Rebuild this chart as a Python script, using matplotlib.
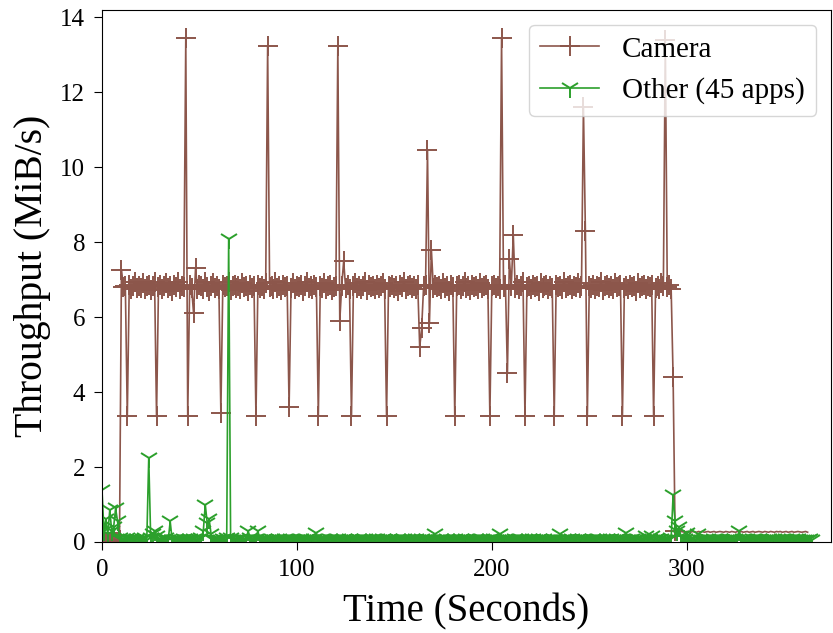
import numpy as np
import matplotlib
matplotlib.use("Agg")
import matplotlib.pyplot as plt

plt.rcParams["font.family"] = ["Liberation Serif", "DejaVu Serif"]

# Throughput per second (MiB/s)
camera = [
    0.0, 0.0, 0.0, 0.0, 0.0, 0.0, 0.0, 0.0, 0.0, 0.05,
    7.27, 6.8, 6.82, 3.35, 6.86, 6.74, 6.82, 6.95, 6.78, 6.84,
    6.78, 6.9, 6.74, 6.82, 6.86, 6.72, 6.82, 6.95, 3.35, 6.8,
    6.86, 6.74, 6.82, 6.9, 6.78, 6.84, 6.7, 6.86, 6.8, 6.95,
    6.74, 6.84, 6.8, 13.45, 3.35, 6.86, 6.78, 6.1, 7.3, 6.76,
    6.86, 6.82, 6.74, 6.95, 6.8, 6.7, 6.84, 6.9, 6.78, 6.82,
    6.74, 3.45, 6.86, 6.8, 6.82, 6.95, 6.72, 6.82, 6.86, 6.78,
    6.84, 6.74, 6.9, 6.8, 6.82, 6.7, 6.86, 6.78, 6.82, 3.35,
    6.86, 6.78, 6.82, 6.74, 6.9, 13.25, 6.8, 6.84, 6.74, 6.95,
    6.78, 6.82, 6.72, 6.86, 6.8, 6.84, 3.6, 6.78, 6.9, 6.74,
    6.82, 6.8, 6.86, 6.7, 6.84, 6.95, 6.78, 6.82, 6.74, 6.86,
    6.8, 3.35, 6.84, 6.78, 6.9, 6.74, 6.82, 6.86, 6.72, 6.8,
    6.82, 13.25, 5.9, 6.84, 7.5, 6.78, 6.86, 6.74, 3.35, 6.82,
    6.9, 6.78, 6.84, 6.74, 6.82, 6.95, 6.72, 6.86, 6.8, 6.82,
    6.74, 6.86, 6.78, 6.84, 6.9, 6.74, 3.35, 6.82, 6.8, 6.86,
    6.78, 6.84, 6.7, 6.86, 6.8, 6.95, 6.74, 6.82, 6.86, 6.78,
    6.84, 6.74, 6.86, 5.2, 5.7, 6.82, 6.86, 10.45, 5.85, 7.8,
    6.78, 6.86, 6.8, 6.82, 6.74, 6.9, 6.78, 6.84, 6.7, 6.86,
    6.8, 3.35, 6.82, 6.86, 6.74, 6.84, 6.95, 6.78, 6.82, 6.72,
    6.86, 6.8, 6.84, 6.74, 6.9, 6.78, 6.82, 6.86, 6.74, 3.35,
    6.82, 6.86, 6.78, 6.84, 6.74, 13.45, 6.8, 6.86, 4.5, 7.55,
    6.82, 8.2, 6.78, 6.86, 6.74, 6.84, 6.95, 3.35, 6.8, 6.82,
    6.74, 6.86, 6.8, 6.84, 6.7, 6.9, 6.78, 6.82, 6.86, 6.74,
    6.84, 6.78, 3.35, 6.86, 6.8, 6.82, 6.74, 6.95, 6.78, 6.84,
    6.86, 6.74, 6.82, 6.8, 6.9, 6.78, 6.84, 11.6, 8.3, 3.35,
    6.82, 6.78, 6.86, 6.74, 6.84, 6.8, 6.95, 6.72, 6.82, 6.86,
    6.78, 6.84, 6.74, 6.9, 6.8, 6.82, 6.86, 3.35, 6.78, 6.84,
    6.74, 6.86, 6.8, 6.82, 6.7, 6.9, 6.78, 6.84, 6.86, 6.74,
    6.82, 6.8, 6.86, 3.35, 6.78, 6.84, 6.74, 6.9, 6.82, 13.4,
    6.8, 6.86, 6.75, 4.4, 0.28, 0.27, 0.26, 0.28, 0.27, 0.26,
    0.28, 0.27, 0.26, 0.28, 0.27, 0.26, 0.28, 0.27, 0.28, 0.26,
    0.27, 0.28, 0.26, 0.27, 0.28, 0.26, 0.27, 0.28, 0.27, 0.26,
    0.28, 0.27, 0.26, 0.28, 0.27, 0.26, 0.28, 0.27, 0.28, 0.26,
    0.27, 0.28, 0.26, 0.27, 0.28, 0.26, 0.27, 0.28, 0.27, 0.26,
    0.28, 0.27, 0.26, 0.28, 0.27, 0.26, 0.28, 0.27, 0.28, 0.26,
    0.27, 0.28, 0.26, 0.27, 0.28, 0.26, 0.27, 0.28, 0.27, 0.26,
    0.27, 0.28, 0.26,
]

other = [
    1.4, 0.3, 0.6, 0.2, 0.85, 0.3, 0.4, 0.9, 0.55, 0.1,
    0.05, 0.08, 0.06, 0.1, 0.05, 0.07, 0.06, 0.05, 0.08, 0.06,
    0.05, 0.07, 0.1, 0.05, 2.25, 0.1, 0.2, 0.3, 0.15, 0.05,
    0.06, 0.05, 0.08, 0.1, 0.05, 0.55, 0.06, 0.05, 0.07, 0.05,
    0.06, 0.05, 0.08, 0.05, 0.06, 0.07, 0.05, 0.08, 0.06, 0.05,
    0.07, 0.1, 0.3, 1.0, 0.5, 0.6, 0.2, 0.05, 0.06, 0.05,
    0.06, 0.05, 0.07, 0.05, 0.1, 8.1, 0.1, 0.05, 0.06, 0.05,
    0.05, 0.07, 0.05, 0.06, 0.05, 0.3, 0.1, 0.06, 0.05, 0.08,
    0.3, 0.06, 0.05, 0.07, 0.05, 0.06, 0.05, 0.08, 0.05, 0.06,
    0.05, 0.07, 0.06, 0.05, 0.08, 0.05, 0.06, 0.07, 0.05, 0.06,
    0.06, 0.05, 0.07, 0.05, 0.06, 0.08, 0.05, 0.06, 0.05, 0.07,
    0.25, 0.06, 0.05, 0.07, 0.05, 0.06, 0.05, 0.08, 0.05, 0.06,
    0.05, 0.07, 0.06, 0.05, 0.08, 0.05, 0.06, 0.07, 0.05, 0.06,
    0.06, 0.05, 0.07, 0.05, 0.06, 0.08, 0.05, 0.06, 0.05, 0.07,
    0.05, 0.07, 0.06, 0.05, 0.08, 0.05, 0.06, 0.07, 0.05, 0.06,
    0.06, 0.05, 0.07, 0.05, 0.06, 0.08, 0.05, 0.06, 0.05, 0.07,
    0.05, 0.07, 0.06, 0.05, 0.08, 0.05, 0.06, 0.07, 0.05, 0.06,
    0.05, 0.2, 0.06, 0.05, 0.07, 0.05, 0.06, 0.08, 0.05, 0.06,
    0.05, 0.07, 0.06, 0.05, 0.08, 0.05, 0.06, 0.07, 0.05, 0.06,
    0.06, 0.05, 0.07, 0.05, 0.06, 0.08, 0.05, 0.06, 0.05, 0.07,
    0.05, 0.07, 0.06, 0.05, 0.2, 0.05, 0.06, 0.07, 0.05, 0.06,
    0.06, 0.05, 0.07, 0.05, 0.06, 0.08, 0.05, 0.06, 0.05, 0.07,
    0.05, 0.07, 0.06, 0.05, 0.08, 0.05, 0.06, 0.07, 0.05, 0.06,
    0.06, 0.05, 0.07, 0.05, 0.06, 0.2, 0.05, 0.06, 0.05, 0.07,
    0.05, 0.07, 0.06, 0.05, 0.08, 0.05, 0.06, 0.07, 0.05, 0.06,
    0.06, 0.05, 0.07, 0.05, 0.06, 0.08, 0.05, 0.06, 0.05, 0.07,
    0.05, 0.07, 0.06, 0.05, 0.08, 0.05, 0.06, 0.07, 0.05, 0.25,
    0.06, 0.05, 0.07, 0.05, 0.06, 0.08, 0.05, 0.06, 0.05, 0.15,
    0.05, 0.07, 0.15, 0.05, 0.08, 0.05, 0.06, 0.07, 0.05, 0.06,
    0.06, 0.05, 0.1, 1.25, 0.55, 0.3, 0.4, 0.15, 0.1, 0.08,
    0.25, 0.06, 0.05, 0.07, 0.05, 0.06, 0.2, 0.05, 0.06, 0.05,
    0.05, 0.07, 0.06, 0.05, 0.08, 0.05, 0.06, 0.07, 0.05, 0.06,
    0.06, 0.05, 0.07, 0.05, 0.06, 0.08, 0.05, 0.3, 0.05, 0.07,
    0.05, 0.07, 0.06, 0.05, 0.08, 0.05, 0.06, 0.07, 0.05, 0.06,
    0.06, 0.05, 0.07, 0.05, 0.06, 0.08, 0.05, 0.06, 0.05, 0.07,
    0.05, 0.07, 0.06, 0.05, 0.08, 0.05, 0.06, 0.07, 0.05, 0.06,
    0.05, 0.06, 0.05, 0.07, 0.05,
]

labels = ["Camera", "Other (45 apps)"]

t_camera = np.arange(len(camera))
t_other = np.arange(len(other))

# the low tail after the camera stops shows no markers in the original
camera_marks = list(range(0, 295))

fig = plt.figure(figsize=(8.33, 6.33), dpi=100)
ax = fig.add_axes([0.1224, 0.1438, 0.8752, 0.8404])

ax.plot(t_camera, camera, color="tab:brown", marker="+", markersize=15,
        markeredgewidth=1.4, linewidth=1.2, markevery=camera_marks,
        label=labels[0])
ax.plot(t_other, other, color="tab:green", marker="1", markersize=15,
        markeredgewidth=1.4, linewidth=1.2, label=labels[1])

ax.set_xlim(0, 374)
ax.set_ylim(0, 14.2)
ax.set_xticks([0, 100, 200, 300])
ax.set_yticks([0, 2, 4, 6, 8, 10, 12, 14])
ax.tick_params(labelsize=18, length=6, pad=6)

ax.set_xlabel("Time (Seconds)", fontsize=28, labelpad=9)
ax.set_ylabel("Throughput (MiB/s)", fontsize=28.5, labelpad=7)

ax.legend(loc="upper right", fontsize=21)

fig.savefig("out.png", dpi=100)
